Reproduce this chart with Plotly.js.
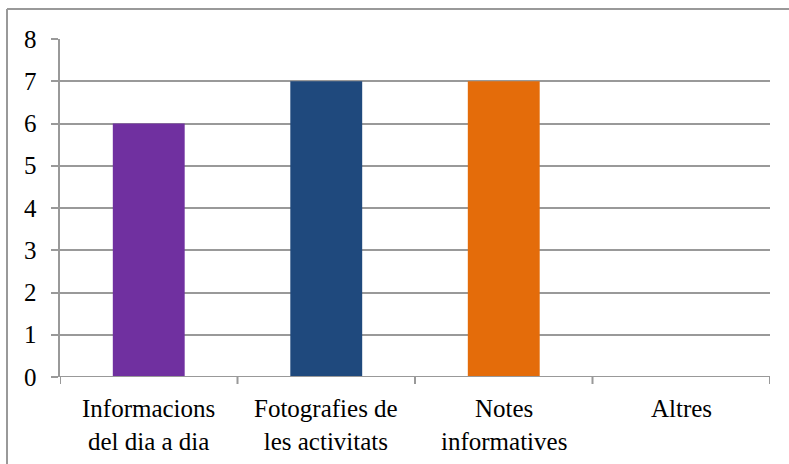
<!DOCTYPE html>
<html>
<head>
<meta charset="utf-8">
<script src="https://cdn.plot.ly/plotly-3.0.1.min.js"></script>
<style>html,body{margin:0;padding:0;background:#fff;}#chart{width:789px;height:464px;}</style>
</head>
<body>
<div id="chart"></div>
<script>
var categories = ["Informacions<br>del dia a dia", "Fotografies de<br>les activitats", "Notes<br>informatives", "Altres"];
var values = [6, 7, 7, 0];
var barColors = ["#7030A0", "#1F497D", "#E46C0A", "#4F81BD"];
var yTicks = [0, 1, 2, 3, 4, 5, 6, 7, 8];

var L = 60, R = 770, T = 39, B = 377;
var GRAY = "#999999";

var xPos = categories.map(function (c, i) { return i; });

var trace = {
  type: "bar",
  x: xPos,
  y: values,
  marker: {color: barColors, line: {width: 0}},
  width: 0.405,
  hoverinfo: "none"
};

var annotations = [];
categories.forEach(function (c, i) {
  annotations.push({
    xref: "x", yref: "paper", x: xPos[i], y: -(393 - B) / (B - T),
    xanchor: "center", yanchor: "top", align: "center", showarrow: false,
    text: c, font: {family: "Times New Roman", size: 25, color: "#000000"}
  });
});
yTicks.forEach(function (v) {
  annotations.push({
    xref: "paper", yref: "y", x: (39 - L) / (R - L), y: v,
    xanchor: "right", yanchor: "middle", showarrow: false,
    text: String(v), font: {family: "Times New Roman", size: 25, color: "#000000"}
  });
});

var layout = {
  width: 789, height: 464,
  margin: {l: L, r: 789 - R, t: T, b: 464 - B, pad: 0},
  paper_bgcolor: "#ffffff",
  plot_bgcolor: "#ffffff",
  showlegend: false,
  xaxis: {
    range: [-0.5, 3.5],
    tickvals: xPos,
    showticklabels: false,
    ticks: "",
    showgrid: false,
    zeroline: false,
    showline: false,
    fixedrange: true
  },
  yaxis: {
    range: [0, 8],
    tickvals: yTicks,
    showticklabels: false,
    ticks: "outside",
    ticklen: 7,
    tickwidth: 2,
    tickcolor: GRAY,
    showgrid: true,
    gridcolor: GRAY,
    gridwidth: 2,
    zeroline: false,
    showline: true,
    linecolor: GRAY,
    linewidth: 2,
    fixedrange: true
  },
  annotations: annotations,
  shapes: [
    {type: "line", xref: "paper", yref: "paper", x0: (7 - L) / (R - L), x1: (7 - L) / (R - L), y0: (B - 9) / (B - T), y1: (B - 470) / (B - T), line: {color: GRAY, width: 2}},
    {type: "line", xref: "paper", yref: "paper", x0: (7 - L) / (R - L), x1: (795 - L) / (R - L), y0: (B - 9) / (B - T), y1: (B - 9) / (B - T), line: {color: GRAY, width: 2}},
    {type: "line", xref: "paper", yref: "y", x0: 0, x1: 1, y0: 0, y1: 0, line: {color: GRAY, width: 2}}
  ]
};
[-0.5, 0.5, 1.5, 2.5, 3.5].forEach(function (b) {
  layout.shapes.push({type: "line", xref: "x", yref: "paper", x0: b, x1: b, y0: 0, y1: -7 / (B - T), line: {color: GRAY, width: 2}});
});

Plotly.newPlot("chart", [trace], layout, {displayModeBar: false, staticPlot: true});
</script>
</body>
</html>
